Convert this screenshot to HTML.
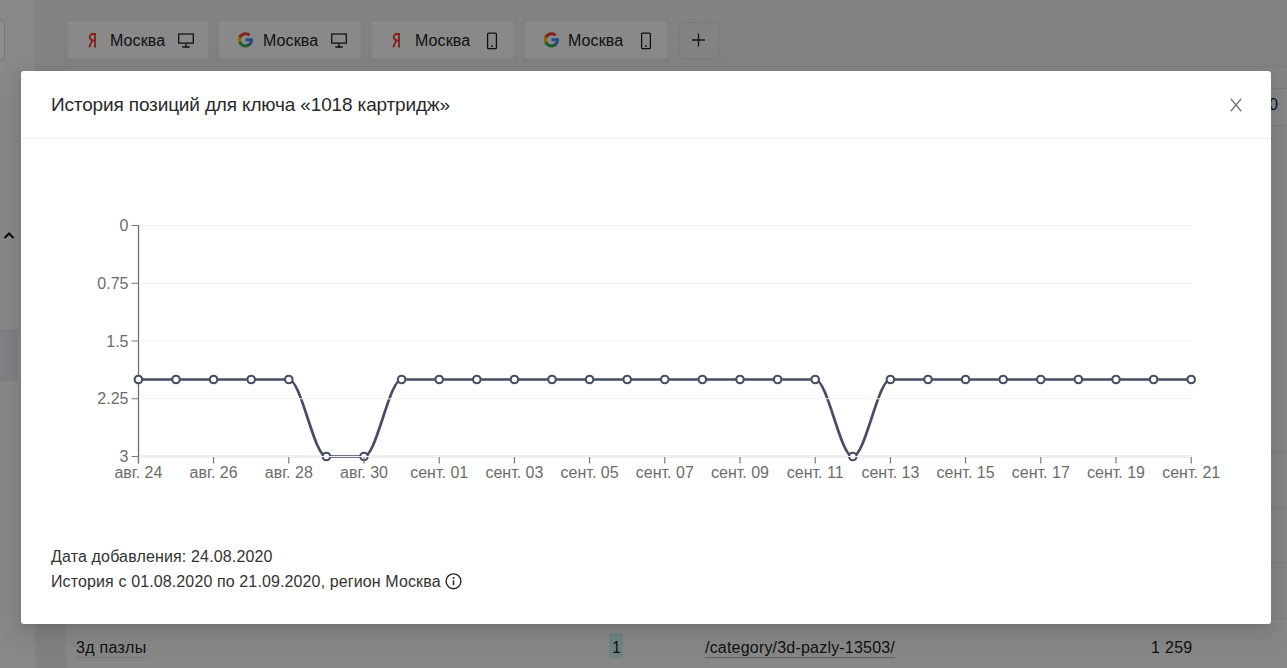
<!DOCTYPE html>
<html><head><meta charset="utf-8">
<style>
*{margin:0;padding:0;box-sizing:border-box}
html,body{width:1287px;height:668px;overflow:hidden}
body{font-family:"Liberation Sans",sans-serif;background:#f1f2f3;position:relative;color:#333}
.abs{position:absolute}
.page{position:absolute;left:0;top:0;width:1287px;height:668px;background:#f1f2f3}
.side{position:absolute;left:0;top:0;width:36px;height:668px;background:#f7f7f7;border-right:1px solid #e8e8e8}
.strip{position:absolute;left:37px;top:0;width:29px;height:668px;background:#e9eaec}
.topbar{position:absolute;left:37px;top:0;width:1250px;height:67px;background:#eeeff1;border-bottom:1px solid #e6e6e6}
.chip{position:absolute;top:21px;height:38px;background:#f9f9f9;border-radius:3px;box-shadow:0 0 0 4px #eaebed;font-size:16px;color:#222;letter-spacing:0.1px}
.chip .t{position:absolute;top:11px}
.chip .ic{position:absolute}
.chip .ya{position:absolute;left:20px;top:11px}
.chip .gl{position:absolute;left:17.5px;top:10px}
.overlay{position:absolute;left:0;top:0;width:1287px;height:668px;background:rgba(0,0,0,0.45)}
.modal{position:absolute;left:21px;top:71px;width:1250px;height:553px;background:#fff;border-radius:3px;box-shadow:0 3px 6px -4px rgba(0,0,0,.12),0 6px 16px 0 rgba(0,0,0,.08),0 9px 28px 8px rgba(0,0,0,.05)}
.title{position:absolute;left:30px;top:23px;font-size:19px;color:#2a2a2a;white-space:nowrap;letter-spacing:-0.15px}
.sep{position:absolute;left:0;top:67px;width:100%;height:1px;background:#ededed}
.close{position:absolute;left:1207px;top:26px;width:16px;height:16px}
.info{position:absolute;left:30px;font-size:16px;color:#333;white-space:nowrap;letter-spacing:0.15px}
svg text{font-family:"Liberation Sans",sans-serif}
.row{position:absolute;font-size:16px;color:#222;white-space:nowrap;letter-spacing:0.2px}
</style></head><body>
<div class="page">
  <div class="side"></div>
  <div class="abs" style="left:-4px;top:20px;width:9px;height:40px;border:1px solid #ddd;border-radius:3px;background:#fff"></div>
  <div class="strip"></div>
  <div class="abs" style="left:0;top:329px;width:18px;height:52px;background:#eaecf0"></div>
  <svg class="abs" style="left:3px;top:231px" width="12" height="9" viewBox="0 0 12 9"><path d="M1.5,7L6,2.5L10.5,7" fill="none" stroke="#111" stroke-width="2"/></svg>
  <div class="topbar"></div>
  <div class="chip" style="left:68px;width:140px"><svg class="ya" width="10" height="16" viewBox="0 0 10 16"><path d="M7,15.4V2H4.8C2.9,2 1.8,3.3 1.8,5.1c0,1.7 .9,2.7 2.4,3.1L1.2,15.4M7,8.5H4.5" fill="none" stroke="#ee3636" stroke-width="1.8"/></svg><span class="t" style="left:42px">Москва</span><span class="ic" style="left:109px;top:11px"><svg class="ic" width="18" height="16" viewBox="0 0 18 16"><rect x="1.7" y="2" width="14.6" height="9.1" fill="none" stroke="#1a1a1a" stroke-width="1.25"/><path d="M9,11.5v3M5.3,15h7.4" stroke="#1a1a1a" stroke-width="1.3" fill="none"/></svg></span></div>
  <div class="chip" style="left:219px;width:142px"><svg class="gl" width="17" height="17" viewBox="0.5 0.5 15 15"><path d="M14.6,8.2c0-.5 0-1-.1-1.4H8v2.7h3.7c-.2.9-.7 1.6-1.4 2.1v1.7h2.2c1.3-1.2 2.1-3 2.100-5.100z" fill="#4285F4"/><path d="M8,15c1.9,0 3.400-.6 4.500-1.700l-2.200-1.700c-.6.4-1.400.7-2.300.7-1.800 0-3.300-1.200-3.800-2.800H1.900v1.800C3,13.500 5.300,15 8,15z" fill="#34A853"/><path d="M4.200,9.500c-.1-.4-.2-.9-.2-1.500s.1-1 .2-1.500V4.700H1.900C1.500,5.700 1.200,6.800 1.200,8s.3,2.300.7,3.300l2.300-1.800z" fill="#FBBC05"/><path d="M8,4.200c1,0 1.900.3 2.600 1l1.900-1.900C11.400,2.200 9.900,1.500 8,1.500 5.300,1.500 3,3 1.900,5.200l2.300 1.800C4.700,5.400 6.200,4.200 8,4.200z" fill="#EA4335"/></svg><span class="t" style="left:44px">Москва</span><span class="ic" style="left:111px;top:11px"><svg class="ic" width="18" height="16" viewBox="0 0 18 16"><rect x="1.7" y="2" width="14.6" height="9.1" fill="none" stroke="#1a1a1a" stroke-width="1.25"/><path d="M9,11.5v3M5.3,15h7.4" stroke="#1a1a1a" stroke-width="1.3" fill="none"/></svg></span></div>
  <div class="chip" style="left:372px;width:142px"><svg class="ya" width="10" height="16" viewBox="0 0 10 16"><path d="M7,15.4V2H4.8C2.9,2 1.8,3.3 1.8,5.1c0,1.7 .9,2.7 2.4,3.1L1.2,15.4M7,8.5H4.5" fill="none" stroke="#ee3636" stroke-width="1.8"/></svg><span class="t" style="left:43px">Москва</span><span class="ic" style="left:114px;top:11px"><svg class="ic" width="12" height="18" viewBox="0 0 12 18"><rect x="1.6" y="1.1" width="8.8" height="15.6" rx="1" fill="none" stroke="#1a1a1a" stroke-width="1.25"/><path d="M5,14.2h2" stroke="#1a1a1a" stroke-width="1.2"/></svg></span></div>
  <div class="chip" style="left:525px;width:142px"><svg class="gl" width="17" height="17" viewBox="0.5 0.5 15 15"><path d="M14.6,8.2c0-.5 0-1-.1-1.4H8v2.7h3.7c-.2.9-.7 1.6-1.4 2.1v1.7h2.2c1.3-1.2 2.1-3 2.100-5.100z" fill="#4285F4"/><path d="M8,15c1.9,0 3.400-.6 4.500-1.700l-2.200-1.700c-.6.4-1.400.7-2.300.7-1.800 0-3.300-1.200-3.800-2.800H1.900v1.800C3,13.500 5.300,15 8,15z" fill="#34A853"/><path d="M4.200,9.500c-.1-.4-.2-.9-.2-1.500s.1-1 .2-1.500V4.700H1.900C1.500,5.700 1.200,6.800 1.200,8s.3,2.300.7,3.300l2.300-1.800z" fill="#FBBC05"/><path d="M8,4.200c1,0 1.900.3 2.600 1l1.900-1.900C11.400,2.200 9.900,1.500 8,1.500 5.300,1.500 3,3 1.900,5.200l2.300 1.800C4.700,5.400 6.200,4.200 8,4.200z" fill="#EA4335"/></svg><span class="t" style="left:43px">Москва</span><span class="ic" style="left:115px;top:11px"><svg class="ic" width="12" height="18" viewBox="0 0 12 18"><rect x="1.6" y="1.1" width="8.8" height="15.6" rx="1" fill="none" stroke="#1a1a1a" stroke-width="1.25"/><path d="M5,14.2h2" stroke="#1a1a1a" stroke-width="1.2"/></svg></span></div>
  <div class="abs" style="left:679px;top:22px;width:40px;height:37px;border:1px dashed #d8d8d8;border-radius:4px;box-shadow:0 0 0 4px #ecedef"><svg class="abs" style="left:11px;top:9px" width="16" height="16" viewBox="0 0 16 16"><path d="M7.5,1.5V14.5M1,8H14" stroke="#222" stroke-width="1.3"/></svg></div>
  <div class="abs" style="left:1271px;top:88px;width:16px;height:38px;background:#f5f6f8;border-top:1px solid #e0e0e0;border-bottom:1px solid #e0e0e0"></div>
  <div class="row" style="left:1269px;top:96px">0</div>
  <div class="abs" style="left:66px;top:451px;width:1221px;height:1px;background:#e6e6e6"></div>
  <div class="abs" style="left:66px;top:507px;width:1221px;height:1px;background:#e6e6e6"></div>
  <div class="abs" style="left:66px;top:562px;width:1221px;height:1px;background:#e6e6e6"></div>
  <div class="abs" style="left:66px;top:618px;width:1221px;height:50px;background:#f6f6f6;border-top:1px solid #e6e6e6"></div>
  <div class="row" style="left:76px;top:639px;letter-spacing:0.3px;border-bottom:1px solid #dcdcdc;line-height:18px">3д пазлы</div>
  <div class="abs" style="left:609px;top:633px;width:14px;height:25px;background:#cdeeee;border-radius:2px"></div>
  <div class="row" style="left:612px;top:639px">1</div>
  <div class="row" style="left:705px;top:639px;border-bottom:1px solid #bbb;line-height:18px">/category/3d-pazly-13503/</div>
  <div class="row" style="left:1151px;top:639px;letter-spacing:0.3px">1 259</div>
</div>
<div class="overlay"></div>
<div class="modal">
  <div class="title">История позиций для ключа «1018 картридж»</div>
  <svg class="close" viewBox="0 0 16 16"><path d="M2.8,1.8L13.2,14.2M13.2,1.8L2.8,14.2" stroke="#7c7c7c" stroke-width="1.5" fill="none"/></svg>
  <div class="sep"></div>
  <div class="info" style="top:477px">Дата добавления: 24.08.2020</div>
  <div class="info" style="top:502px;letter-spacing:0.12px">История с 01.08.2020 по 21.09.2020, регион Москва</div>
  <svg class="abs" style="left:423px;top:501px" width="19" height="19" viewBox="0 0 19 19"><circle cx="9.5" cy="9.3" r="7.4" fill="none" stroke="#222" stroke-width="1.4"/><path d="M9.5,8.3v5" stroke="#333" stroke-width="1.6"/><circle cx="9.5" cy="6" r="1" fill="#333"/></svg>
</div>
<svg class="abs" style="left:0;top:0" width="1287" height="668" viewBox="0 0 1287 668">
  <path d="M139,456.5H1192" stroke="#e9e9e9" stroke-width="2.6" fill="none"/>
  <path d="M138.5,225V463.5" stroke="#707070" stroke-width="1.3" fill="none"/>
  <path d="M138.40,379.50C150.93,379.50,163.47,379.50,176.00,379.50C188.53,379.50,201.07,379.50,213.60,379.50C226.13,379.50,238.67,379.50,251.20,379.50C263.73,379.50,276.27,379.50,288.80,379.50C301.33,379.50,313.87,456.50,326.40,456.50C338.93,456.50,351.47,456.50,364.00,456.50C376.53,456.50,389.07,379.50,401.60,379.50C414.13,379.50,426.67,379.50,439.20,379.50C451.73,379.50,464.27,379.50,476.80,379.50C489.33,379.50,501.87,379.50,514.40,379.50C526.93,379.50,539.47,379.50,552.00,379.50C564.53,379.50,577.07,379.50,589.60,379.50C602.13,379.50,614.67,379.50,627.20,379.50C639.73,379.50,652.27,379.50,664.80,379.50C677.33,379.50,689.87,379.50,702.40,379.50C714.93,379.50,727.47,379.50,740.00,379.50C752.53,379.50,765.07,379.50,777.60,379.50C790.13,379.50,802.67,379.50,815.20,379.50C827.73,379.50,840.27,456.50,852.80,456.50C865.33,456.50,877.87,379.50,890.40,379.50C902.93,379.50,915.47,379.50,928.00,379.50C940.53,379.50,953.07,379.50,965.60,379.50C978.13,379.50,990.67,379.50,1003.20,379.50C1015.73,379.50,1028.27,379.50,1040.80,379.50C1053.33,379.50,1065.87,379.50,1078.40,379.50C1090.93,379.50,1103.47,379.50,1116.00,379.50C1128.53,379.50,1141.07,379.50,1153.60,379.50C1166.13,379.50,1178.67,379.50,1191.20,379.50" fill="none" stroke="#474d62" stroke-width="2.7"/>
  <g fill="#fff" stroke="#474d62" stroke-width="2.1"><circle cx="138.40" cy="379.50" r="3.75"/><circle cx="176.00" cy="379.50" r="3.75"/><circle cx="213.60" cy="379.50" r="3.75"/><circle cx="251.20" cy="379.50" r="3.75"/><circle cx="288.80" cy="379.50" r="3.75"/><circle cx="326.40" cy="456.50" r="3.75"/><circle cx="364.00" cy="456.50" r="3.75"/><circle cx="401.60" cy="379.50" r="3.75"/><circle cx="439.20" cy="379.50" r="3.75"/><circle cx="476.80" cy="379.50" r="3.75"/><circle cx="514.40" cy="379.50" r="3.75"/><circle cx="552.00" cy="379.50" r="3.75"/><circle cx="589.60" cy="379.50" r="3.75"/><circle cx="627.20" cy="379.50" r="3.75"/><circle cx="664.80" cy="379.50" r="3.75"/><circle cx="702.40" cy="379.50" r="3.75"/><circle cx="740.00" cy="379.50" r="3.75"/><circle cx="777.60" cy="379.50" r="3.75"/><circle cx="815.20" cy="379.50" r="3.75"/><circle cx="852.80" cy="456.50" r="3.75"/><circle cx="890.40" cy="379.50" r="3.75"/><circle cx="928.00" cy="379.50" r="3.75"/><circle cx="965.60" cy="379.50" r="3.75"/><circle cx="1003.20" cy="379.50" r="3.75"/><circle cx="1040.80" cy="379.50" r="3.75"/><circle cx="1078.40" cy="379.50" r="3.75"/><circle cx="1116.00" cy="379.50" r="3.75"/><circle cx="1153.60" cy="379.50" r="3.75"/><circle cx="1191.20" cy="379.50" r="3.75"/></g>
  <path d="M139,225.50H1192M139,283.25H1192M139,341.00H1192M139,398.75H1192M139,456.50H1192" stroke="#efefef" stroke-width="1.1" fill="none"/>
  <path d="M131.5,225.50h7M131.5,283.25h7M131.5,341.00h7M131.5,398.75h7M131.5,456.50h7M138.40,457v6.5M213.60,457v6.5M288.80,457v6.5M364.00,457v6.5M439.20,457v6.5M514.40,457v6.5M589.60,457v6.5M664.80,457v6.5M740.00,457v6.5M815.20,457v6.5M890.40,457v6.5M965.60,457v6.5M1040.80,457v6.5M1116.00,457v6.5M1191.20,457v6.5" stroke="#7a7a7a" stroke-width="1.2" fill="none"/>
  <path d="M139,456.5H1192" stroke="#f2f2f2" stroke-width="1" fill="none"/>
  <g font-size="16" fill="#6c6c6c" text-anchor="end"><text x="128.5" y="231.00">0</text><text x="128.5" y="288.75">0.75</text><text x="128.5" y="346.50">1.5</text><text x="128.5" y="404.25">2.25</text><text x="128.5" y="462.00">3</text></g>
  <g font-size="16" fill="#6c6c6c" text-anchor="middle"><text x="138.40" y="478.3">авг. 24</text><text x="213.60" y="478.3">авг. 26</text><text x="288.80" y="478.3">авг. 28</text><text x="364.00" y="478.3">авг. 30</text><text x="439.20" y="478.3">сент. 01</text><text x="514.40" y="478.3">сент. 03</text><text x="589.60" y="478.3">сент. 05</text><text x="664.80" y="478.3">сент. 07</text><text x="740.00" y="478.3">сент. 09</text><text x="815.20" y="478.3">сент. 11</text><text x="890.40" y="478.3">сент. 13</text><text x="965.60" y="478.3">сент. 15</text><text x="1040.80" y="478.3">сент. 17</text><text x="1116.00" y="478.3">сент. 19</text><text x="1191.20" y="478.3">сент. 21</text></g>
</svg>
</body></html>
